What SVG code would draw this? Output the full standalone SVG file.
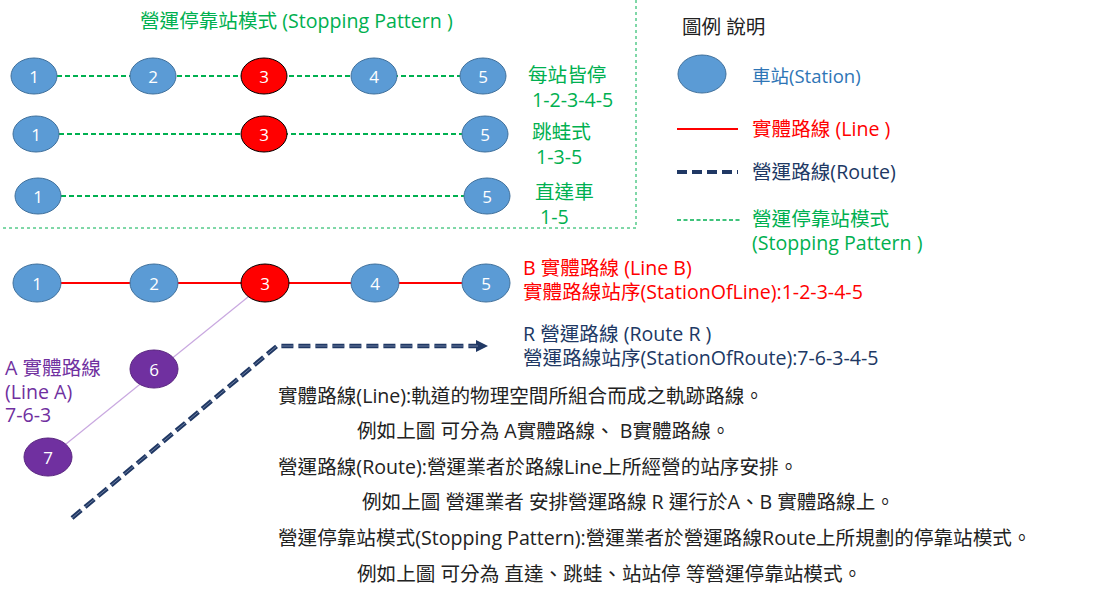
<svg xmlns="http://www.w3.org/2000/svg" width="1097" height="595" viewBox="0 0 1097 595">
<defs>
<style>
text{font-family:"Open Sans","Noto Sans CJK TC",sans-serif;}
.st{fill:#5b9bd5;stroke:#41719c;stroke-width:1}
.hl{fill:#ff0000;stroke:#000;stroke-width:1}
.pu{fill:#7030a0;stroke:#5a2680;stroke-width:1}
.num{fill:#fff;font-size:17px;text-anchor:middle;dominant-baseline:central}
.g{fill:#00b050;font-size:19.6px}
.r{fill:#ff0000;font-size:19.6px}
.n{fill:#203864;font-size:19.6px}
.p{fill:#7030a0;font-size:19.6px}
.k{fill:#222;font-size:19.6px}
.gd{stroke:#00b050;stroke-width:2;stroke-dasharray:5,3;fill:none}
.box{stroke:#00b050;stroke-width:1;stroke-dasharray:3,3;fill:none}
.rl{stroke:#ff0000;stroke-width:2;fill:none}
.rt{stroke:#203864;stroke-width:4.5;stroke-dasharray:12,5;fill:none}
.rti{stroke:#7f8fb0;stroke-width:0.8;stroke-dasharray:12,5;fill:none}
</style>
<marker id="ar" markerWidth="12" markerHeight="12" refX="2" refY="6" orient="auto" markerUnits="userSpaceOnUse" viewBox="0 0 12 12">
<path d="M0,0 L12,6 L0,12 Z" fill="#203864"/>
</marker>
</defs>
<rect width="1097" height="595" fill="#fff"/>
<g id="connectors">
<path class="box" d="M636,0 V228 H0"/>
<path class="gd" d="M57,76 H460"/>
<path class="gd" d="M59,134 H462"/>
<path class="gd" d="M61,196 H464"/>
<path class="rl" d="M60,283 H463"/>
<path d="M248,297 L66,444" stroke="#c9a8e0" stroke-width="1.2" fill="none"/>
<path class="rt" d="M72,518 L277,346 H478" marker-end="url(#ar)"/>
<path class="rti" d="M72,518 L277,346 H478"/>
</g>
<g id="title"><text class="g" x="140" y="28">營運停靠站模式 (Stopping Pattern )</text></g>
<g id="p1-1"><ellipse class="st" cx="34" cy="76" rx="23" ry="18"/><text class="num" x="34" y="76">1</text></g>
<g id="p1-2"><ellipse class="st" cx="153" cy="76" rx="23" ry="18"/><text class="num" x="153" y="76">2</text></g>
<g id="p1-3"><ellipse class="hl" cx="264" cy="76" rx="23" ry="18"/><text class="num" x="264" y="76">3</text></g>
<g id="p1-4"><ellipse class="st" cx="374" cy="76" rx="23" ry="18"/><text class="num" x="374" y="76">4</text></g>
<g id="p1-5"><ellipse class="st" cx="483" cy="76" rx="23" ry="18"/><text class="num" x="483" y="76">5</text></g>
<g id="p1-label"><text class="g" x="528" y="82">每站皆停</text><text class="g" x="532" y="107">1-2-3-4-5</text></g>
<g id="p2-1"><ellipse class="st" cx="36" cy="134" rx="23" ry="18"/><text class="num" x="36" y="134">1</text></g>
<g id="p2-3"><ellipse class="hl" cx="264" cy="134" rx="23" ry="18"/><text class="num" x="264" y="134">3</text></g>
<g id="p2-5"><ellipse class="st" cx="485" cy="134" rx="23" ry="18"/><text class="num" x="485" y="134">5</text></g>
<g id="p2-label"><text class="g" x="532" y="139">跳蛙式</text><text class="g" x="536" y="164">1-3-5</text></g>
<g id="p3-1"><ellipse class="st" cx="38" cy="196" rx="23" ry="18"/><text class="num" x="38" y="196">1</text></g>
<g id="p3-5"><ellipse class="st" cx="487" cy="196" rx="23" ry="18"/><text class="num" x="487" y="196">5</text></g>
<g id="p3-label"><text class="g" x="535" y="199">直達車</text><text class="g" x="540" y="224">1-5</text></g>
<g id="legend">
<text class="k" x="682" y="34">圖例 說明</text>
<ellipse class="st" cx="702" cy="74" rx="24" ry="19"/>
<text x="752" y="83" font-size="18.5" fill="#2e75b6">車站(Station)</text>
<path class="rl" d="M677,129 H738"/>
<text class="r" x="752" y="136">實體路線 (Line )</text>
<path d="M677,172 H738" stroke="#203864" stroke-width="4" stroke-dasharray="10,5" fill="none"/>
<text class="n" x="752" y="179">營運路線(Route)</text>
<path d="M677,220 H740" stroke="#00b050" stroke-width="1.5" stroke-dasharray="4,2.5" fill="none"/>
<text class="g" x="752" y="226">營運停靠站模式</text>
<text class="g" x="752" y="250">(Stopping Pattern )</text>
</g>
<g id="b-1"><ellipse class="st" cx="37" cy="283" rx="24" ry="19"/><text class="num" x="37" y="283">1</text></g>
<g id="b-2"><ellipse class="st" cx="154" cy="283" rx="24" ry="19"/><text class="num" x="154" y="283">2</text></g>
<g id="b-3"><ellipse class="hl" cx="265" cy="283" rx="24" ry="19"/><text class="num" x="265" y="283">3</text></g>
<g id="b-4"><ellipse class="st" cx="375" cy="283" rx="24" ry="19"/><text class="num" x="375" y="283">4</text></g>
<g id="b-5"><ellipse class="st" cx="486" cy="283" rx="24" ry="19"/><text class="num" x="486" y="283">5</text></g>
<g id="a-6"><ellipse class="pu" cx="154" cy="369" rx="24" ry="19"/><text class="num" x="154" y="369">6</text></g>
<g id="a-7"><ellipse class="pu" cx="48" cy="457" rx="24" ry="19"/><text class="num" x="48" y="457">7</text></g>
<g id="lineB-label"><text class="r" x="523" y="275">B 實體路線 (Line B)</text><text class="r" x="523" y="299">實體路線站序(StationOfLine):1-2-3-4-5</text></g>
<g id="routeR-label"><text class="n" x="523" y="341">R 營運路線 (Route R )</text><text class="n" x="523" y="365">營運路線站序(StationOfRoute):7-6-3-4-5</text></g>
<g id="lineA-label"><text class="p" x="5" y="375">A 實體路線</text><text class="p" x="5" y="399">(Line A)</text><text class="p" x="5" y="422">7-6-3</text></g>
<g id="notes">
<text class="k" x="278" y="403">實體路線(Line):軌道的物理空間所組合而成之軌跡路線。</text>
<text class="k" x="357" y="438">例如上圖 可分為 A實體路線、 B實體路線。</text>
<text class="k" x="278" y="474">營運路線(Route):營運業者於路線Line上所經營的站序安排。</text>
<text class="k" x="362" y="509">例如上圖 營運業者 安排營運路線 R 運行於A、B 實體路線上。</text>
<text class="k" x="278" y="545">營運停靠站模式(Stopping Pattern):營運業者於營運路線Route上所規劃的停靠站模式。</text>
<text class="k" x="357" y="581">例如上圖 可分為 直達、跳蛙、站站停 等營運停靠站模式。</text>
</g>
</svg>
